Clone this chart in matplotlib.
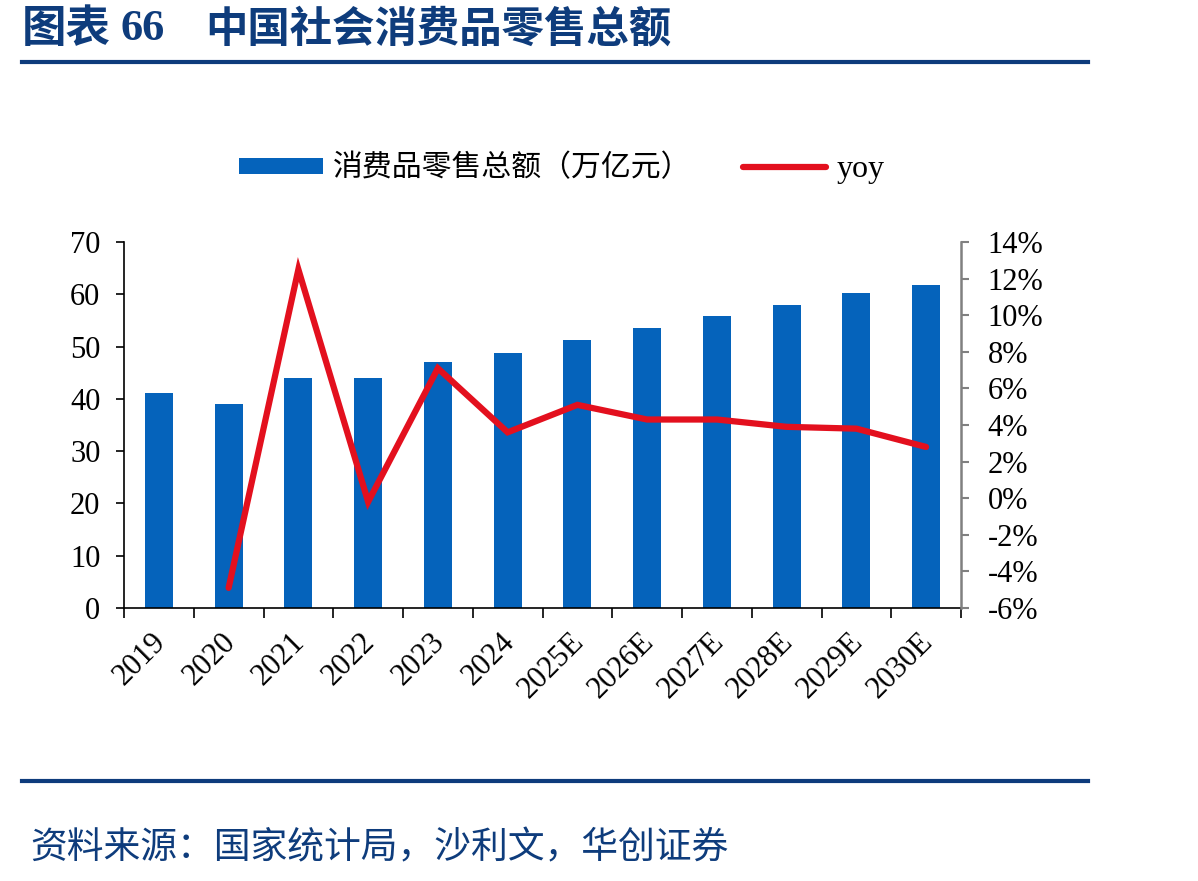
import matplotlib
matplotlib.use("Agg")
import matplotlib.pyplot as plt
from matplotlib.patches import Patch
from matplotlib.lines import Line2D
from matplotlib.transforms import ScaledTranslation
import numpy as np

categories = ["2019", "2020", "2021", "2022", "2023", "2024", "2025E", "2026E",
              "2027E", "2028E", "2029E", "2030E"]
sales = [41.1, 39.0, 44.0, 43.9, 47.1, 48.8, 51.3, 53.5, 55.8, 58.0, 60.2, 61.8]
yoy_years = categories[1:]
yoy = [-4.9, 12.5, -0.2, 7.1, 3.6, 5.1, 4.3, 4.3, 3.9, 3.8, 2.8]

CJK = ['Noto Sans CJK SC', 'DejaVu Sans']
SERIF = ['Liberation Serif', 'DejaVu Serif']
NAVY = '#0E3C7C'
BLUE = '#0563BB'
RED = '#E3101E'

fig = plt.figure(figsize=(11.98, 8.81), dpi=100)
ax = fig.add_axes([124/1198, 1-608/881, (961-124)/1198, (608-242)/881])
ax2 = ax.twinx()

x = np.arange(len(categories))
ax.bar(x, sales, width=0.4, color=BLUE, zorder=2)
xi = [categories.index(c) for c in yoy_years]
ax2.plot(xi, yoy, color=RED, lw=4.5, solid_capstyle='round', solid_joinstyle='miter', zorder=3)

ax.set_xlim(-0.5, len(categories)-0.5)
ax.set_ylim(0, 70)
ax.set_yticks(range(0, 71, 10))
ax2.set_ylim(-6, 14)
ax2.set_yticks(range(-6, 15, 2))
ax2.set_yticklabels([f"{v}%" for v in range(-6, 15, 2)])

ax.set_xticks(x)
ax.set_xticklabels(categories, rotation=45, ha='right', va='top', rotation_mode='anchor')
ax.set_xticks(np.arange(-0.5, len(categories), 1), minor=True)
ax.tick_params(axis='x', which='major', length=0, pad=14)
ax.tick_params(axis='x', which='minor', length=7, width=1.2, color='black', direction='out')
ax.tick_params(axis='y', length=6, width=1.2, direction='out', pad=11)
ax2.tick_params(axis='y', length=6, width=1.5, color='#808080', direction='out', pad=13)

for lab in ax.get_xticklabels() + ax.get_yticklabels() + ax2.get_yticklabels():
    lab.set_family(SERIF)
    lab.set_fontsize(22)
off = ScaledTranslation(-8/100, 0, fig.dpi_scale_trans)
for lab in ax.get_xticklabels():
    lab.set_transform(lab.get_transform() + off)

ax.spines['top'].set_visible(False)
ax2.spines['top'].set_visible(False)
ax.spines['right'].set_visible(False)
ax2.spines['left'].set_visible(False)
ax2.spines['bottom'].set_visible(False)
ax2.spines['right'].set_color('#808080')
ax2.spines['right'].set_linewidth(1.8)
ax.spines['left'].set_linewidth(1.2)
ax.spines['bottom'].set_linewidth(1.2)

handles = [Patch(facecolor=BLUE, edgecolor='none'),
           Line2D([0], [0], color=RED, lw=4.5, solid_capstyle='round')]
labels = ["消费品零售总额（万亿元）", "yoy"]
leg = fig.legend(handles, labels, loc='center', bbox_to_anchor=(562/1198, 1-168/881),
                 ncol=2, frameon=False, handlelength=2.8, handleheight=0.42,
                 columnspacing=1.7, handletextpad=0.35, prop={'family': CJK, 'size': 21.5})
leg.get_texts()[1].set_family(SERIF)
leg.get_texts()[1].set_fontsize(23)

# title and rules
ty = 1-29/881
fig.text(22/1198, ty, "图表", family=CJK, fontsize=32, fontweight='bold', color=NAVY,
         ha='left', va='center')
fig.text(120/1198, ty, "66", family=SERIF, fontsize=32, fontweight='bold', color=NAVY,
         ha='left', va='center')
fig.text(205/1198, ty, "中国社会消费品零售总额", family=CJK, fontsize=30.5, fontweight='bold',
         color=NAVY, ha='left', va='center')
fig.add_artist(Line2D([22/1198, 1088/1198], [1-62/881, 1-62/881], color=NAVY, lw=3))
fig.add_artist(Line2D([22/1198, 1088/1198], [1-781/881, 1-781/881], color=NAVY, lw=3))
fig.text(30/1198, 1-848/881, "资料来源：国家统计局，沙利文，华创证券", family=CJK, fontsize=26.5,
         color=NAVY, ha='left', va='center')

fig.savefig("out.png", dpi=100)
